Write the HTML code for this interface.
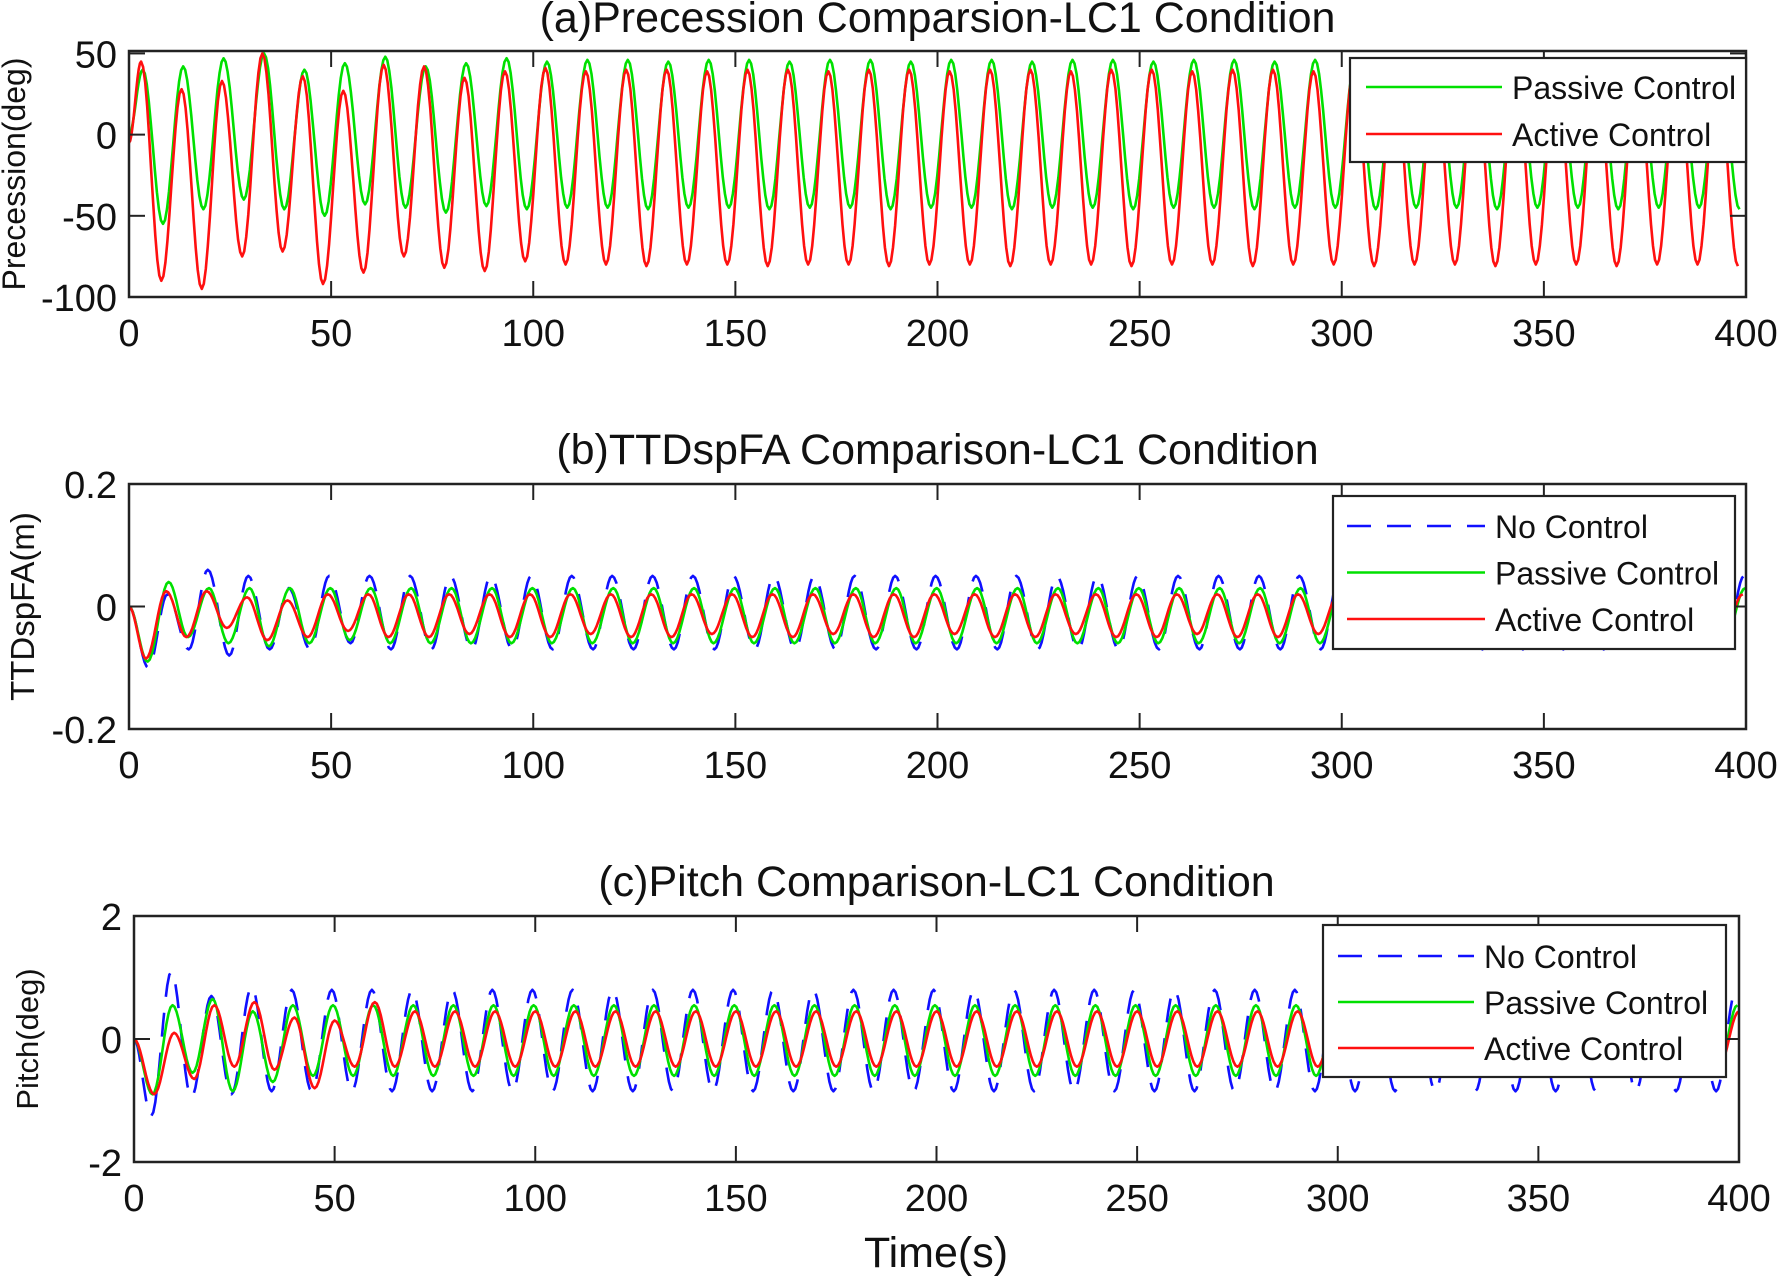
<!DOCTYPE html>
<html><head><meta charset="utf-8"><style>
html,body{margin:0;padding:0;background:#fff;}
svg{display:block;font-family:"Liberation Sans",Arial,sans-serif;}
</style></head><body>
<svg id="fig" width="1778" height="1279" viewBox="0 0 1778 1279"></svg>
<script>
// ---- Shared x data ----
const xTicks = [0, 50, 100, 150, 200, 250, 300, 350, 400];
const period = 10;

// ---- Panel (a) Precession ----
const aYTicks = [50, 0, -50, -100];
const aPassivePeaks = [40,42,47,50,40,44,48,42,44,47,45,46,46,45,46,46,45,46,46,45,46,46,45,46,46,45,46,46,45,46,46,45,46,46,45,46,46,45,46,46];
const aPassiveTroughs = [-55,-46,-40,-46,-50,-43,-45,-48,-44,-46,-45,-45,-46,-45,-45,-46,-45,-45,-46,-45,-45,-46,-45,-45,-46,-45,-45,-46,-45,-45,-46,-45,-45,-46,-45,-45,-46,-45,-45,-46];
const aActivePeaks = [45,28,33,50,36,27,43,42,35,39,41,39,40,40,39,40,40,39,40,40,39,40,40,39,40,40,39,40,40,39,40,40,39,40,40,39,40,40,39,40];
const aActiveTroughs = [-90,-95,-75,-72,-92,-85,-75,-82,-84,-78,-80,-80,-81,-80,-80,-81,-80,-80,-81,-80,-80,-81,-80,-80,-81,-80,-80,-81,-80,-80,-81,-80,-80,-81,-80,-80,-81,-80,-80,-81];

// ---- Panel (b) TTDspFA ----
const bYTicks = [0.2, 0, -0.2];
const bNoPeaks = [0.02,0.06,0.05,0.03,0.05,0.05,0.05,0.05,0.05,0.05,0.05,0.05,0.05,0.05,0.05,0.05,0.05,0.05,0.05,0.05,0.05,0.05,0.05,0.05,0.05,0.05,0.05,0.05,0.05,0.05,0.05,0.05,0.05,0.05,0.05,0.05,0.05,0.05,0.05,0.05];
const bNoTroughs = [-0.1,-0.07,-0.08,-0.07,-0.07,-0.06,-0.07,-0.07,-0.07,-0.07,-0.07,-0.07,-0.07,-0.07,-0.07,-0.07,-0.07,-0.07,-0.07,-0.07,-0.07,-0.07,-0.07,-0.07,-0.07,-0.07,-0.07,-0.07,-0.07,-0.07,-0.07,-0.07,-0.07,-0.07,-0.07,-0.07,-0.07,-0.07,-0.07,-0.07];
const bPassivePeaks = [0.04,0.03,0.03,0.03,0.03,0.03,0.03,0.03,0.03,0.03,0.03,0.03,0.03,0.03,0.03,0.03,0.03,0.03,0.03,0.03,0.03,0.03,0.03,0.03,0.03,0.03,0.03,0.03,0.03,0.03,0.03,0.03,0.03,0.03,0.03,0.03,0.03,0.03,0.03,0.03];
const bPassiveTroughs = [-0.09,-0.05,-0.06,-0.065,-0.06,-0.055,-0.06,-0.06,-0.06,-0.06,-0.06,-0.06,-0.06,-0.06,-0.06,-0.06,-0.06,-0.06,-0.06,-0.06,-0.06,-0.06,-0.06,-0.06,-0.06,-0.06,-0.06,-0.06,-0.06,-0.06,-0.06,-0.06,-0.06,-0.06,-0.06,-0.06,-0.06,-0.06,-0.06,-0.06];
const bActivePeaks = [0.025,0.025,0.015,0.01,0.02,0.02,0.02,0.02,0.02,0.02,0.02,0.02,0.02,0.02,0.02,0.02,0.02,0.02,0.02,0.02,0.02,0.02,0.02,0.02,0.02,0.02,0.02,0.02,0.02,0.02,0.02,0.02,0.02,0.02,0.02,0.02,0.02,0.02,0.02,0.02];
const bActiveTroughs = [-0.085,-0.05,-0.035,-0.055,-0.05,-0.04,-0.05,-0.05,-0.045,-0.05,-0.05,-0.045,-0.05,-0.05,-0.045,-0.05,-0.05,-0.045,-0.05,-0.05,-0.045,-0.05,-0.05,-0.045,-0.05,-0.05,-0.045,-0.05,-0.05,-0.045,-0.05,-0.05,-0.045,-0.05,-0.05,-0.045,-0.05,-0.05,-0.045,-0.05];

// ---- Panel (c) Pitch ----
const cYTicks = [2, 0, -2];
const cNoPeaks = [1.1,0.7,0.85,0.8,0.8,0.8,0.8,0.8,0.8,0.8,0.8,0.8,0.8,0.8,0.8,0.8,0.8,0.8,0.8,0.8,0.8,0.8,0.8,0.8,0.8,0.8,0.8,0.8,0.8,0.8,0.8,0.8,0.8,0.8,0.8,0.8,0.8,0.8,0.8,0.8];
const cNoTroughs = [-1.25,-0.95,-0.9,-0.85,-0.85,-0.85,-0.85,-0.85,-0.85,-0.85,-0.85,-0.85,-0.85,-0.85,-0.85,-0.85,-0.85,-0.85,-0.85,-0.85,-0.85,-0.85,-0.85,-0.85,-0.85,-0.85,-0.85,-0.85,-0.85,-0.85,-0.85,-0.85,-0.85,-0.85,-0.85,-0.85,-0.85,-0.85,-0.85,-0.85];
const cPassivePeaks = [0.55,0.65,0.45,0.55,0.55,0.55,0.55,0.55,0.55,0.55,0.55,0.55,0.55,0.55,0.55,0.55,0.55,0.55,0.55,0.55,0.55,0.55,0.55,0.55,0.55,0.55,0.55,0.55,0.55,0.55,0.55,0.55,0.55,0.55,0.55,0.55,0.55,0.55,0.55,0.55];
const cPassiveTroughs = [-0.9,-0.55,-0.85,-0.7,-0.6,-0.6,-0.6,-0.6,-0.6,-0.6,-0.6,-0.6,-0.6,-0.6,-0.6,-0.6,-0.6,-0.6,-0.6,-0.6,-0.6,-0.6,-0.6,-0.6,-0.6,-0.6,-0.6,-0.6,-0.6,-0.6,-0.6,-0.6,-0.6,-0.6,-0.6,-0.6,-0.6,-0.6,-0.6,-0.6];
const cActivePeaks = [0.1,0.55,0.6,0.35,0.3,0.6,0.45,0.45,0.45,0.45,0.45,0.45,0.45,0.45,0.45,0.45,0.45,0.45,0.45,0.45,0.45,0.45,0.45,0.45,0.45,0.45,0.45,0.45,0.45,0.45,0.45,0.45,0.45,0.45,0.45,0.45,0.45,0.45,0.45,0.45];
const cActiveTroughs = [-0.9,-0.65,-0.45,-0.5,-0.8,-0.45,-0.45,-0.45,-0.45,-0.45,-0.45,-0.45,-0.45,-0.45,-0.45,-0.45,-0.45,-0.45,-0.45,-0.45,-0.45,-0.45,-0.45,-0.45,-0.45,-0.45,-0.45,-0.45,-0.45,-0.45,-0.45,-0.45,-0.45,-0.45,-0.45,-0.45,-0.45,-0.45,-0.45,-0.45];

const NS = "http://www.w3.org/2000/svg";
const svg = document.getElementById("fig");
function mk(tag, attrs, parent) {
  const e = document.createElementNS(NS, tag);
  for (const k in attrs) e.setAttribute(k, attrs[k]);
  (parent || svg).appendChild(e);
  return e;
}

function buildPath(xs, ys, peaks, troughs, peakT0, troughT0, v0) {
  const ext = [];
  for (let k = 0; k < peaks.length; k++) ext.push([peakT0 + k * period, peaks[k]]);
  for (let k = 0; k < troughs.length; k++) ext.push([troughT0 + k * period, troughs[k]]);
  ext.sort((a, b) => a[0] - b[0]);
  const pts = [[0, v0]].concat(ext.filter(e => e[0] > 0));
  let d = "M" + xs(0).toFixed(1) + "," + ys(v0).toFixed(1);
  for (let i = 0; i < pts.length - 1; i++) {
    const [t1, v1] = pts[i], [t2, v2] = pts[i + 1];
    const n = 10;
    for (let j = 1; j <= n; j++) {
      const f = j / n;
      let t = t1 + (t2 - t1) * f;
      if (t > 400) { t = 400; }
      const ff = (t - t1) / (t2 - t1);
      const v = v1 + (v2 - v1) * (1 - Math.cos(Math.PI * ff)) / 2;
      d += "L" + xs(t).toFixed(1) + "," + ys(v).toFixed(1);
      if (t >= 400) return d;
    }
  }
  return d;
}

function panel(cfg) {
  const g = mk("g", {});
  
  
  const xs = t => cfg.L + (t / 400) * (cfg.R - cfg.L);
  const ys = v => cfg.T + (cfg.ymax - v) / (cfg.ymax - cfg.ymin) * (cfg.B - cfg.T);
  const clipId = "clip-" + cfg.name;
  const cp = mk("clipPath", { id: clipId }, g);
  mk("rect", { x: cfg.L, y: cfg.T, width: cfg.R - cfg.L, height: cfg.B - cfg.T }, cp);
  const sg = mk("g", { "clip-path": "url(#" + clipId + ")" }, g);
  cfg.series.forEach(s => {
    const p = mk("path", { d: buildPath(xs, ys, s.peaks, s.troughs, s.pt, s.tt, s.v0), fill: "none", stroke: s.color, "stroke-width": 2.6, "stroke-dasharray": s.dash || "none", "stroke-linejoin": "round" }, sg);
    
    
  });
  const box = mk("rect", { x: cfg.L, y: cfg.T, width: cfg.R - cfg.L, height: cfg.B - cfg.T, fill: "none", stroke: "#222", "stroke-width": 2.5 }, g);
  
  
  xTicks.forEach(t => {
    const x = xs(t);
    mk("line", { x1: x, y1: cfg.B, x2: x, y2: cfg.B - 16, stroke: "#222", "stroke-width": 2 }, g);
    mk("line", { x1: x, y1: cfg.T, x2: x, y2: cfg.T + 16, stroke: "#222", "stroke-width": 2 }, g);
    const tx = mk("text", { x: x, y: cfg.B + 49, "font-size": 38, "text-anchor": "middle", fill: "#111" }, g);
    tx.textContent = t;
    
    
  });
  cfg.yTicks.forEach(v => {
    const y = ys(v);
    mk("line", { x1: cfg.L, y1: y, x2: cfg.L + 16, y2: y, stroke: "#222", "stroke-width": 2 }, g);
    mk("line", { x1: cfg.R, y1: y, x2: cfg.R - 16, y2: y, stroke: "#222", "stroke-width": 2 }, g);
    const ty = mk("text", { x: cfg.L - 12, y: y + 14, "font-size": 38, "text-anchor": "end", fill: "#111" }, g);
    ty.textContent = v;
    
    
  });
  const title = mk("text", { x: (cfg.L + cfg.R) / 2, y: cfg.titleY, "font-size": 43, "text-anchor": "middle", fill: "#111" }, g);
  title.textContent = cfg.title;
  
  
  const yl = mk("text", { x: 0, y: 0, "font-size": cfg.ylSize, "text-anchor": "middle", fill: "#111", transform: "translate(" + cfg.ylX + "," + ((cfg.T + cfg.B) / 2) + ") rotate(-90)" }, g);
  yl.textContent = cfg.ylabel;
  
  
  const lg = mk("g", {}, g);
  
  
  const lb = cfg.legend;
  mk("rect", { x: lb.x, y: lb.y, width: lb.w, height: lb.h, fill: "#fff", stroke: "#222", "stroke-width": 2.2 }, lg);
  lb.entries.forEach((e, i) => {
    const y = lb.rowY0 + i * lb.rowDy;
    const ent = mk("g", {}, lg);
    
    
    mk("line", { x1: lb.lx1, y1: y, x2: lb.lx2, y2: y, stroke: e.color, "stroke-width": 2.6, "stroke-dasharray": e.dash || "none" }, ent);
    const t = mk("text", { x: lb.tx, y: y + 12, "font-size": 32, fill: "#111" }, ent);
    t.textContent = e.label;
  });
}

const BLUE = "#1010ff", GREEN = "#00e000", RED = "#ff1010", DASH = "24 16";

panel({
  name: "precession-panel", L: 129, R: 1746, T: 51, B: 297, ymin: -100, ymax: 51.5, yTicks: aYTicks,
  title: "(a)Precession Comparsion-LC1 Condition", titleY: 32, ylabel: "Precession(deg)", ylX: 25, ylSize: 32,
  series: [
    { id: "passive-control", color: GREEN, peaks: aPassivePeaks, troughs: aPassiveTroughs, pt: 3.4, tt: 8.4, v0: 0 },
    { id: "active-control", color: RED, peaks: aActivePeaks, troughs: aActiveTroughs, pt: 3, tt: 8, v0: -5 }
  ],
  legend: { x: 1350, y: 58, w: 396, h: 104, rowY0: 87, rowDy: 47, lx1: 1366, lx2: 1502, tx: 1512,
    entries: [{ label: "Passive Control", color: GREEN }, { label: "Active Control", color: RED }] }
});

panel({
  name: "ttdspfa-panel", L: 129, R: 1746, T: 484, B: 729, ymin: -0.2, ymax: 0.2, yTicks: bYTicks,
  title: "(b)TTDspFA Comparison-LC1 Condition", titleY: 464, ylabel: "TTDspFA(m)", ylX: 34, ylSize: 33,
  series: [
    { id: "no-control", color: BLUE, dash: DASH, peaks: bNoPeaks, troughs: bNoTroughs, pt: 9.5, tt: 4.8, v0: 0 },
    { id: "passive-control", color: GREEN, peaks: bPassivePeaks, troughs: bPassiveTroughs, pt: 9.8, tt: 4.6, v0: 0 },
    { id: "active-control", color: RED, peaks: bActivePeaks, troughs: bActiveTroughs, pt: 9.2, tt: 4.2, v0: 0 }
  ],
  legend: { x: 1333, y: 496, w: 402, h: 153, rowY0: 526, rowDy: 46.5, lx1: 1347, lx2: 1485, tx: 1495,
    entries: [{ label: "No Control", color: BLUE, dash: DASH }, { label: "Passive Control", color: GREEN }, { label: "Active Control", color: RED }] }
});

panel({
  name: "pitch-panel", L: 134, R: 1739, T: 916, B: 1162, ymin: -2, ymax: 2, yTicks: cYTicks,
  title: "(c)Pitch Comparison-LC1 Condition", titleY: 896, ylabel: "Pitch(deg)", ylX: 38, ylSize: 31,
  series: [
    { id: "no-control", color: BLUE, dash: DASH, peaks: cNoPeaks, troughs: cNoTroughs, pt: 9.3, tt: 4.3, v0: 0 },
    { id: "passive-control", color: GREEN, peaks: cPassivePeaks, troughs: cPassiveTroughs, pt: 9.6, tt: 4.6, v0: 0 },
    { id: "active-control", color: RED, peaks: cActivePeaks, troughs: cActiveTroughs, pt: 10, tt: 5, v0: 0 }
  ],
  legend: { x: 1323, y: 925, w: 403, h: 152, rowY0: 956, rowDy: 46, lx1: 1338, lx2: 1474, tx: 1484,
    entries: [{ label: "No Control", color: BLUE, dash: DASH }, { label: "Passive Control", color: GREEN }, { label: "Active Control", color: RED }] }
});

const xl = mk("text", { x: 936, y: 1267, "font-size": 43, "text-anchor": "middle", fill: "#111" });
xl.textContent = "Time(s)";


</script>
</body></html>
